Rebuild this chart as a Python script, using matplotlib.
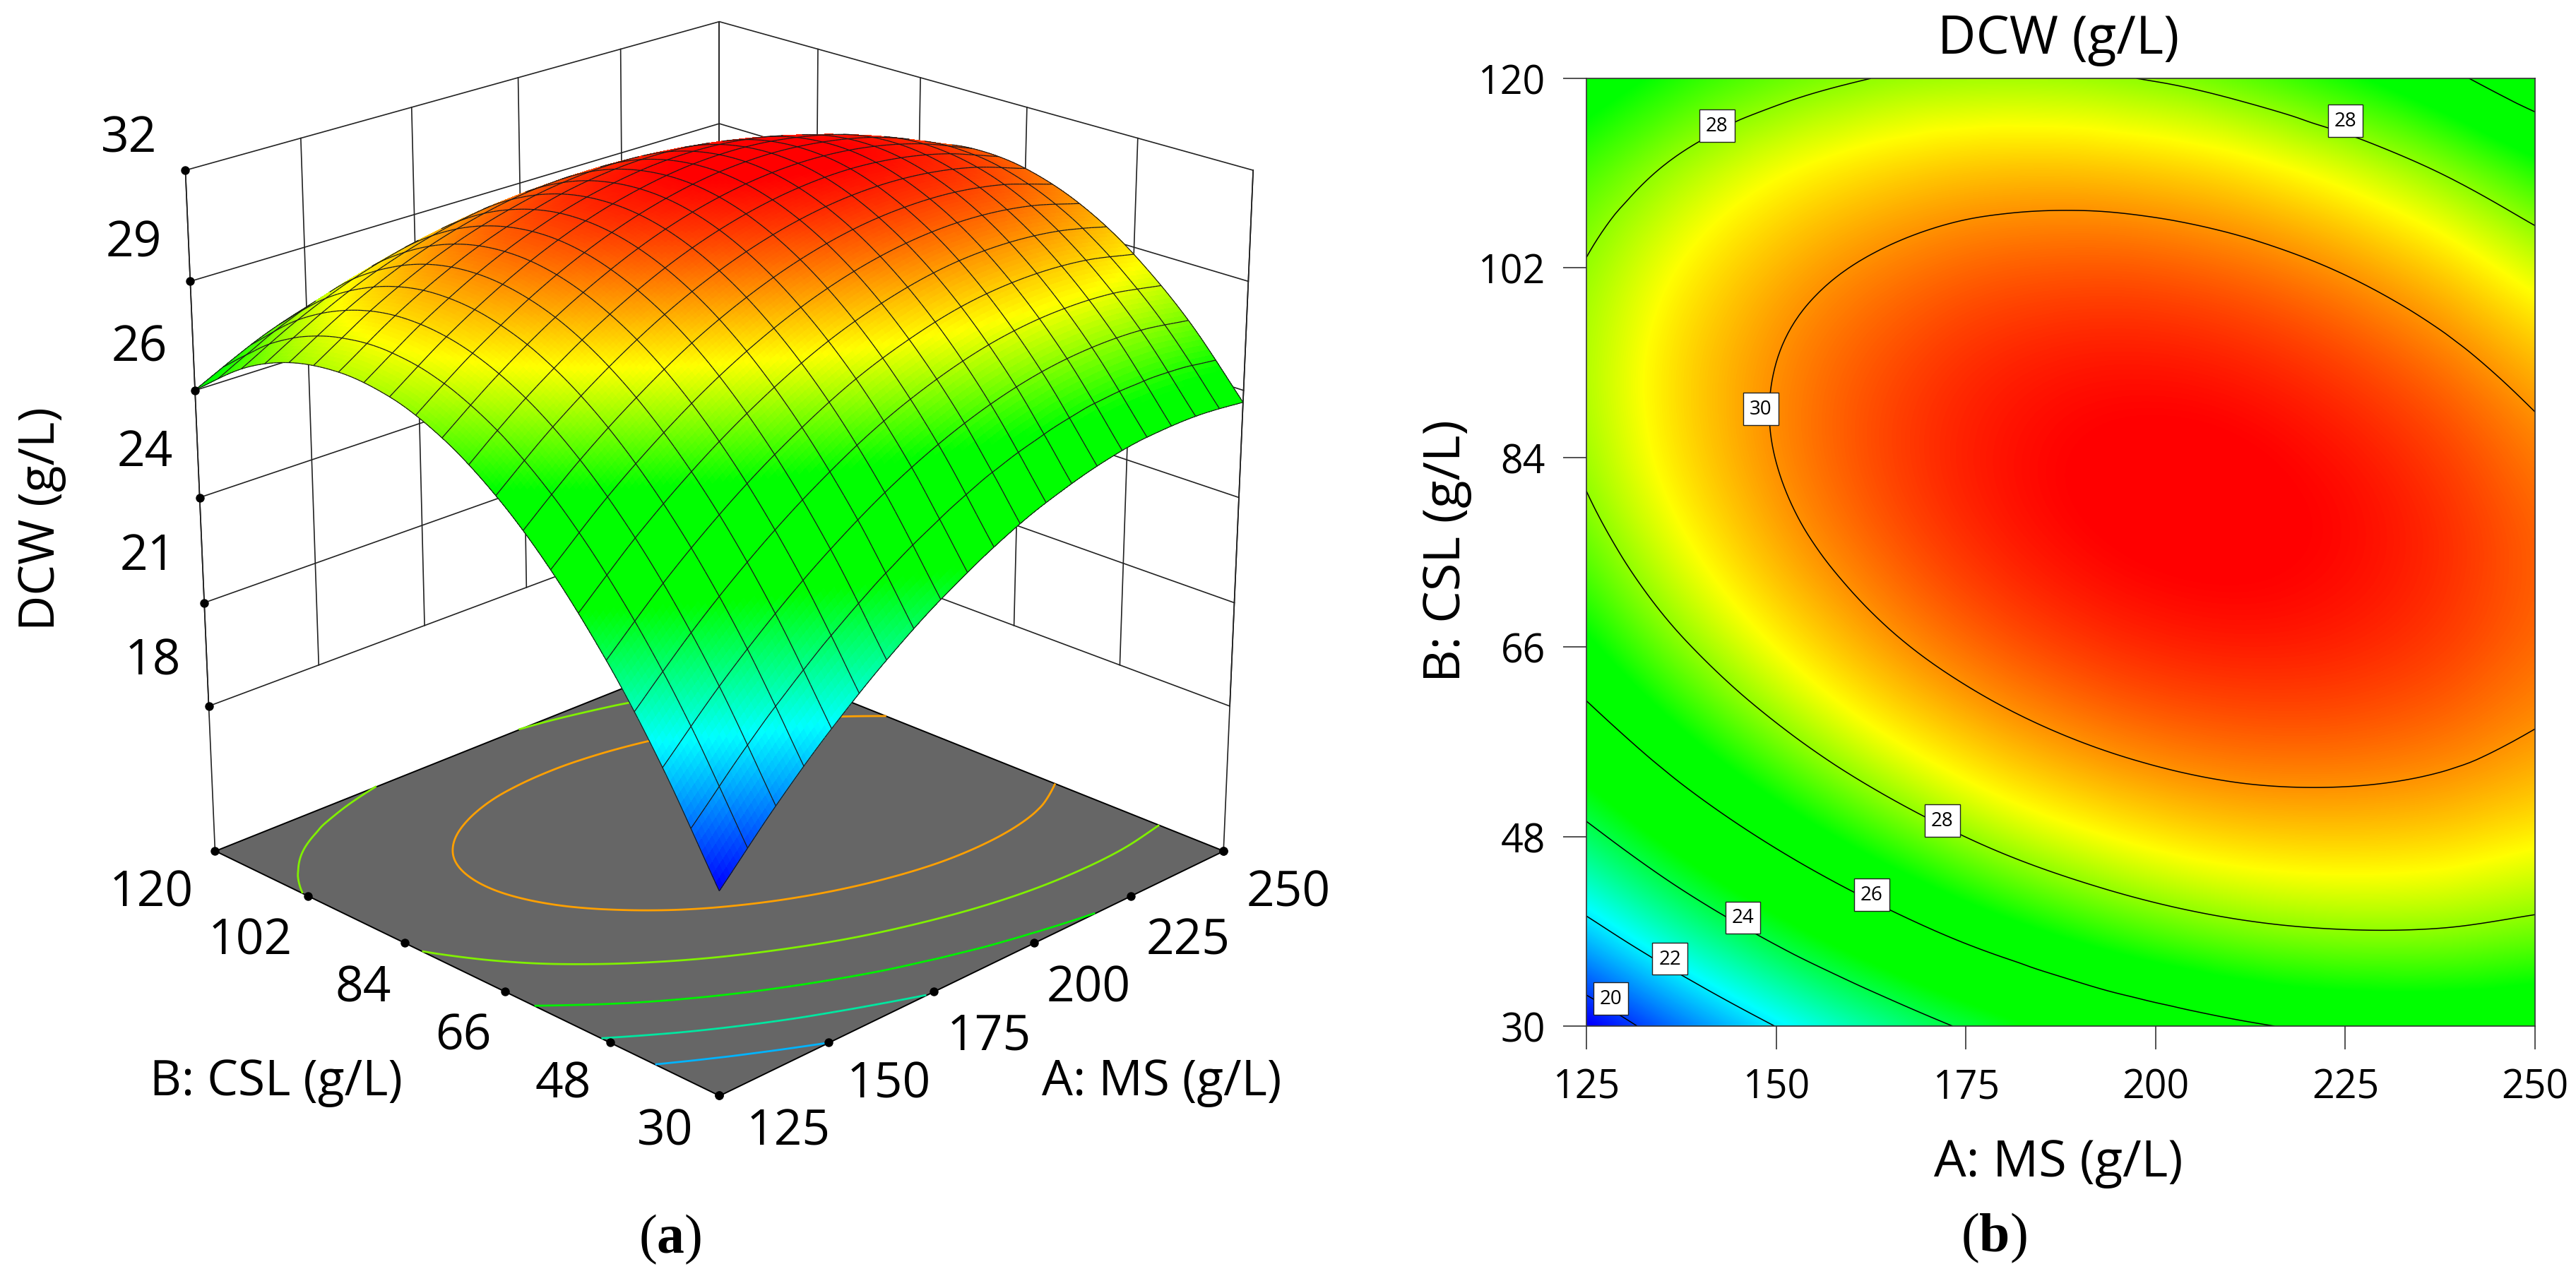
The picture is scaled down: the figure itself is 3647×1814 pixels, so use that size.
import numpy as np
import matplotlib
matplotlib.use('Agg')
import matplotlib.pyplot as plt
import matplotlib.tri as mtri
from matplotlib.colors import LinearSegmentedColormap, Normalize
from mpl_toolkits.mplot3d import proj3d
from mpl_toolkits.mplot3d.art3d import Line3DCollection, Poly3DCollection

# values
ms_values = [125, 137.5, 150, 162.5, 175, 187.5, 200, 212.5, 225, 237.5, 250]
csl_values = [30, 39, 48, 57, 66, 75, 84, 93, 102, 111, 120]
dcw_30 = [19.19, 20.69, 22.02, 23.16, 24.12, 24.90, 25.50, 25.92, 26.16, 26.21, 26.09]
dcw_39 = [21.64, 23.07, 24.31, 25.37, 26.26, 26.96, 27.48, 27.82, 27.97, 27.95, 27.75]
dcw_48 = [23.71, 25.06, 26.22, 27.20, 28.01, 28.63, 29.07, 29.33, 29.40, 29.30, 29.02]
dcw_57 = [25.39, 26.66, 27.74, 28.65, 29.37, 29.91, 30.27, 30.45, 30.45, 30.27, 29.91]
dcw_66 = [26.69, 27.88, 28.88, 29.71, 30.35, 30.81, 31.09, 31.19, 31.11, 30.85, 30.41]
dcw_75 = [27.61, 28.71, 29.64, 30.38, 30.95, 31.33, 31.53, 31.55, 31.39, 31.05, 30.53]
dcw_84 = [28.14, 29.16, 30.01, 30.68, 31.16, 31.46, 31.58, 31.52, 31.28, 30.86, 30.26]
dcw_93 = [28.28, 29.23, 30.00, 30.58, 30.99, 31.21, 31.25, 31.11, 30.79, 30.29, 29.61]
dcw_102 = [28.05, 28.91, 29.60, 30.10, 30.43, 30.57, 30.54, 30.32, 29.92, 29.34, 28.58]
dcw_111 = [27.42, 28.21, 28.82, 29.24, 29.49, 29.55, 29.43, 29.14, 28.66, 28.00, 27.16]
dcw_120 = [26.41, 27.12, 27.65, 28.00, 28.16, 28.15, 27.95, 27.57, 27.01, 26.27, 25.35]

ms_ticks = [125, 150, 175, 200, 225, 250]
csl_ticks = [30, 48, 66, 84, 102, 120]
dcw_ticks = [18, 20.8, 23.6, 26.4, 29.2, 32]
dcw_tick_labels = ['18', '21', '24', '26', '29', '32']
floor_z = 14

floor_levels = [22, 24, 26, 28, 30]
floor_colors = ['#00b4ff', '#00e6a0', '#00f000', '#80f000', '#ffa000']
contour_levels = [20, 22, 24, 26, 28, 30]
label_text = ['28', '28', '30', '28', '26', '24', '22', '20']
label_ms = [142.2, 225, 148, 171.9, 162.6, 145.6, 136, 128.2]
label_csl = [115.5, 116, 88.6, 49.5, 42.5, 40.3, 36.4, 32.6]

W, H = 3648, 1815
plt.rcParams['font.family'] = ['Open Sans', 'DejaVu Sans']
plt.rcParams['mathtext.fontset'] = 'custom'
plt.rcParams['mathtext.rm'] = 'Liberation Serif'
plt.rcParams['mathtext.bf'] = 'Liberation Serif:bold'

rsm_cmap = LinearSegmentedColormap.from_list('rsm', [
    (0.0, '#0000ff'), (0.236, '#00ffff'), (0.44, '#00ff00'), (0.618, '#00ff00'),
    (0.785, '#ffff00'), (1.0, '#ff0000')], N=512)
rsm_norm = Normalize(19.2, 31.5)

# smooth field for drawing, resampled from the table above
dcw = np.array([dcw_30, dcw_39, dcw_48, dcw_57, dcw_66, dcw_75, dcw_84, dcw_93, dcw_102, dcw_111, dcw_120])
mm, cc = np.meshgrid(ms_values, csl_values)
tri = mtri.Triangulation(mm.ravel(), cc.ravel())
smooth = mtri.CubicTriInterpolator(tri, dcw.ravel(), kind='geom')
N = 161
ms_fine = np.linspace(125 + 1e-6, 250 - 1e-6, N)
csl_fine = np.linspace(30 + 1e-6, 120 - 1e-6, N)
mf, cf = np.meshgrid(ms_fine, csl_fine)
zf = np.ma.filled(smooth(mf, cf), np.nan)
zf = np.where(np.isnan(zf), 20, zf)


def fig_text(x, y, s, **kw):
    kw.setdefault('ha', 'center')
    kw.setdefault('va', 'center')
    fig.text(x / W, 1 - y / H, s, **kw)


fig = plt.figure(figsize=(W / 200, H / 200), dpi=200, facecolor='white')

# (a) response surface
size = 1800
cx, cy = 994, 762
ax = fig.add_axes([(cx - size / 2) / W, 1 - (cy + size / 2) / H, size / W, size / H], projection='3d',
                  computed_zorder=False)
ax.set_proj_type('persp', focal_length=0.7)
ax.view_init(elev=22, azim=-135)
ax.set_box_aspect((1, 1, 1.0), zoom=0.97)
ax.set_autoscale_on(False)
ax.set_xlim(125, 250, view_margin=0)
ax.set_ylim(30, 120, view_margin=0)
ax.set_zlim(floor_z, 32, view_margin=0)
ax.set_axis_off()
ax.patch.set_alpha(0)

line_kw = dict(color='#222222', lw=0.6, zorder=1)
for m in ms_ticks:
    ax.plot([m, m], [120, 120], [18, 32], **line_kw)
for c in csl_ticks:
    ax.plot([250, 250], [c, c], [18, 32], **line_kw)
for z in dcw_ticks:
    ax.plot([125, 250, 250], [120, 120, 30], [z, z, z], **line_kw)
ax.plot([125, 125], [120, 120], [floor_z, 32], **line_kw)
ax.plot([250, 250], [30, 30], [floor_z, 32], **line_kw)

floor = Poly3DCollection([[(125, 30, floor_z), (250, 30, floor_z), (250, 120, floor_z), (125, 120, floor_z)]],
                         facecolor='#666666', edgecolor='black', linewidth=0.7, zorder=2)
ax.add_collection3d(floor, autolim=False)
cs = ax.contour(mf, cf, zf, levels=floor_levels, zdir='z', offset=floor_z, colors=floor_colors,
                linewidths=1.0)
cs.set_zorder(3)

face_vals = (zf[:-1, :-1] + zf[1:, :-1] + zf[:-1, 1:] + zf[1:, 1:]) / 4
face_cols = rsm_cmap(rsm_norm(face_vals))
ax.plot_surface(mf, cf, zf, rstride=1, cstride=1, facecolors=face_cols, shade=False, linewidth=0.25,
                edgecolor='none', antialiased=False, zorder=4)

# mesh lines, back side of the dome left out
px, py, _ = proj3d.proj_transform(mf.ravel(), cf.ravel(), zf.ravel(), ax.get_proj())
px = px.reshape(mf.shape)
py = py.reshape(mf.shape)
area = (px[1:, 1:] - px[:-1, :-1]) * (py[1:, :-1] - py[:-1, 1:]) - (px[1:, :-1] - px[:-1, 1:]) * (py[1:, 1:] - py[:-1, :-1])
front = np.sign(area) == np.sign(area[N // 2, N // 2])
segments = []
for i in range(0, N, 8):
    row = min(i, N - 2)
    for j in range(N - 1):
        if front[row, j]:
            segments.append([(mf[i, j], cf[i, j], zf[i, j]), (mf[i, j + 1], cf[i, j + 1], zf[i, j + 1])])
        if front[j, row]:
            segments.append([(mf[j, i], cf[j, i], zf[j, i]), (mf[j + 1, i], cf[j + 1, i], zf[j + 1, i])])
ax.add_collection3d(Line3DCollection(segments, colors='#1a1a1a', linewidths=0.45, zorder=5), autolim=False)

dot_kw = dict(c='black', s=20, depthshade=False, zorder=6, linewidths=0)
ax.scatter(ms_ticks, [30] * 6, [floor_z] * 6, **dot_kw)
ax.scatter([125] * 6, csl_ticks, [floor_z] * 6, **dot_kw)
ax.scatter([125] * 6, [120] * 6, dcw_ticks, **dot_kw)
ax.scatter([250], [30], [floor_z], **dot_kw)

left_fs = 25
for s, x, y in zip(dcw_tick_labels, [216, 209, 205, 197, 189, 183], [938, 789, 642, 494, 346, 198]):
    fig_text(x, y, s, fontsize=left_fs)
for m, x, y in zip(ms_ticks, [1116, 1258, 1400, 1541, 1682, 1824], [1604, 1537, 1469, 1401, 1334, 1265]):
    fig_text(x, y, str(m), fontsize=left_fs)
for c, x, y in zip(csl_ticks, [942, 797, 656, 514, 354, 214], [1604, 1537, 1469, 1401, 1334, 1265]):
    fig_text(x, y, str(c), fontsize=left_fs)
fig_text(1645, 1533, 'A: MS (g/L)', fontsize=left_fs)
fig_text(391, 1533, 'B: CSL (g/L)', fontsize=left_fs)
fig_text(59, 735, 'DCW (g/L)', fontsize=left_fs, rotation=90)

# (b) contour map
ax2 = fig.add_axes([2246 / W, 1 - 1454 / H, (3589 - 2246) / W, (1454 - 112) / H])
ax2.imshow(zf, extent=[125, 250, 30, 120], origin='lower', aspect='auto', cmap=rsm_cmap, norm=rsm_norm,
           interpolation='bilinear')
ax2.contour(mf, cf, zf, levels=contour_levels, colors='black', linewidths=0.55)
for s, m, c in zip(label_text, label_ms, label_csl):
    ax2.text(m, c, s, fontsize=10, ha='center', va='center', zorder=5,
             bbox=dict(boxstyle='square,pad=0.32', fc='white', ec='#222222', lw=0.5))
ax2.set_xlim(125, 250)
ax2.set_ylim(30, 120)
ax2.set_xticks(ms_ticks)
ax2.set_yticks(csl_ticks)
ax2.tick_params(length=12, width=0.6, color='#333333', labelsize=20, pad=9)
for sp in ax2.spines.values():
    sp.set_linewidth(0.6)
    sp.set_color('#333333')
fig_text(2914, 57, 'DCW (g/L)', fontsize=27)
fig_text(2914, 1647, 'A: MS (g/L)', fontsize=26)
fig_text(2048, 780, 'B: CSL (g/L)', fontsize=26, rotation=90)

fig_text(949, 1755, r'($\mathbf{a}$)', fontsize=28, family='Liberation Serif')
fig_text(2823, 1753, r'($\mathbf{b}$)', fontsize=28, family='Liberation Serif')

fig.savefig('out.png', dpi=200)
